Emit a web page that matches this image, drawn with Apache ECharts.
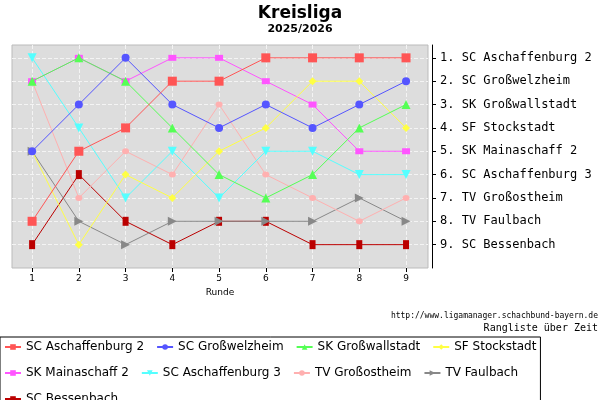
<!DOCTYPE html><html><head><meta charset="utf-8"><script src="https://cdn.jsdelivr.net/npm/echarts@6/dist/echarts.min.js"></script></head><body style="margin:0"><div id="c" style="width:600px;height:400px"></div><script>
const rounds=[1,2,3,4,5,6,7,8,9];
const names=["SC Aschaffenburg 2","SC Großwelzheim","SK Großwallstadt","SF Stockstadt","SK Mainaschaff 2","SC Aschaffenburg 3","TV Großostheim","TV Faulbach","SC Bessenbach"];
const s1=[8,5,4,2,2,1,1,1,1];
const s2=[5,3,1,3,4,3,4,3,2];
const s3=[2,1,2,4,6,7,6,4,3];
const s4=[5,9,6,7,5,4,2,2,4];
const s5=[2,1,2,1,1,2,3,5,5];
const s6=[1,4,7,5,7,5,5,6,6];
const s7=[2,7,5,6,3,6,7,8,7];
const s8=[5,8,9,8,8,8,8,7,8];
const s9=[9,6,8,9,8,8,9,9,9];
const finalRank=["1. SC Aschaffenburg 2","2. SC Großwelzheim","3. SK Großwallstadt","4. SF Stockstadt","5. SK Mainaschaff 2","6. SC Aschaffenburg 3","7. TV Großostheim","8. TV Faulbach","9. SC Bessenbach"];
const data=[s1,s2,s3,s4,s5,s6,s7,s8,s9];
const colors=['#ff5555','#5555ff','#55ff55','#ffff44','#ff55ff','#55ffff','#ffb0b0','#888888','#bb0000'];
const symbols=['rect','circle','triangle','diamond','rect','path://M0,0L10,0L5,10Z','circle','path://M0,0L10,5L0,10Z','rect'];
const sizes=[[9,9],8,9,8,[8,6],9,[7,6],9,[6,9]];
const series=names.map((n,i)=>({name:n,type:'line',data:data[i].map((v,j)=>[rounds[j],v]),color:colors[i],symbol:symbols[i],symbolSize:sizes[i],showSymbol:true,lineStyle:{width:1},itemStyle:{color:colors[i]},z:10-i}));
const chart=echarts.init(document.getElementById('c'));
chart.setOption({animation:false,backgroundColor:'#fff',
title:{text:'Kreisliga',subtext:'2025/2026',left:'center',top:0,itemGap:2,textStyle:{fontFamily:'DejaVu Sans',fontSize:17,fontWeight:'bold',color:'#000'},subtextStyle:{fontFamily:'DejaVu Sans',fontSize:11,fontWeight:'bold',color:'#000'}},
grid:{left:12,right:172,top:45,bottom:132,show:true,backgroundColor:'#dddddd',borderColor:'#bbbbbb'},
xAxis:{type:'value',min:0.57,max:9.47,name:'Runde',nameLocation:'middle',nameGap:18,nameTextStyle:{fontFamily:'DejaVu Sans',fontSize:9,color:'#000'},
axisLine:{show:false},axisTick:{show:true,customValues:rounds,length:4,lineStyle:{color:'#000'}},axisLabel:{customValues:rounds,fontFamily:'DejaVu Sans',fontSize:9,color:'#000',margin:6},
splitLine:{show:true,lineStyle:{color:'#f4f4f4',type:'dashed'}}},
yAxis:{type:'value',inverse:true,min:0.45,max:10,position:'right',axisLine:{show:true,onZero:false,lineStyle:{color:'#000'}},offset:4,
axisTick:{show:true,customValues:rounds,length:4,lineStyle:{color:'#000'}},axisLabel:{customValues:rounds,formatter:v=>finalRank[v-1]||'',fontFamily:'DejaVu Sans Mono',fontSize:12,color:'#000',margin:8},
splitLine:{show:true,lineStyle:{color:'#f4f4f4',type:'dashed'}}},
legend:{left:0,top:337,width:590,itemGap:12,itemWidth:16,itemHeight:7,padding:[3,4,2,4],borderColor:'#000',borderWidth:1,textStyle:{fontFamily:'DejaVu Sans',fontSize:12,lineHeight:14,color:'#000'},data:names},
graphic:[{type:'text',right:2,top:312,style:{text:'http://www.ligamanager.schachbund-bayern.de',font:'8px DejaVu Sans Mono',fill:'#000'}},
{type:'text',right:2,top:323,style:{text:'Rangliste über Zeit',font:'10px DejaVu Sans Mono',fill:'#000'}}],
series});
</script></body></html>
